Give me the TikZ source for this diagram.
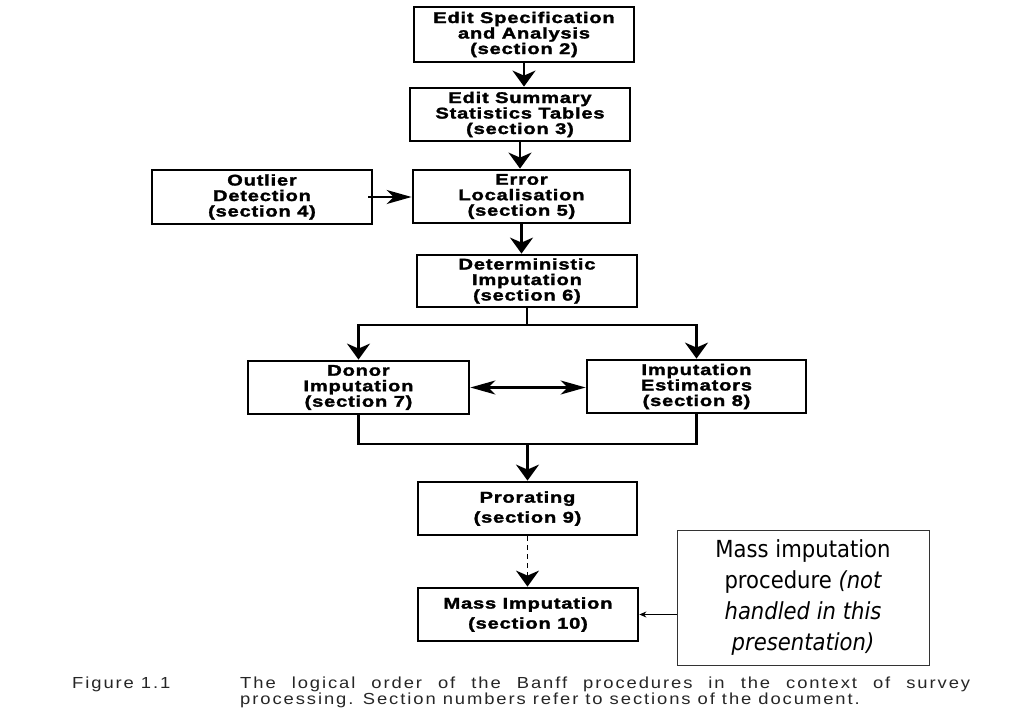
\documentclass[tikz,border=0pt]{standalone}
\usepackage{fontspec}
\usetikzlibrary{arrows.meta}
\newfontfamily\boxfont{Liberation Sans}[FakeStretch=1.3,FakeBold=1.8,LetterSpace=5]
\newfontfamily\capfont{Liberation Sans}[FakeStretch=1.15,LetterSpace=12]
\newfontfamily\notefont{DejaVu Sans}[FakeStretch=0.9]
\tikzset{
  fb/.style={draw, line width=2.8pt, minimum width=220pt, minimum height=53pt, inner sep=0pt,
    align=center, font=\boxfont\bfseries\fontsize{15.5}{15.5}\selectfont},
  fbtwo/.style={fb, font=\boxfont\bfseries\fontsize{15.5}{20}\selectfont},
  conn/.style={line width=2.4pt},
  vconn/.style={conn, -{Stealth[length=16pt,width=23pt,inset=5pt]}},
  hconn/.style={conn, -{Stealth[length=25pt,width=14pt,inset=7pt]}},
  dconn/.style={conn, {Stealth[length=25pt,width=14pt,inset=7pt]}-{Stealth[length=25pt,width=14pt,inset=7pt]}},
  captxt/.style={inner sep=0pt, anchor=base west, text=black!85, font=\capfont\fontsize{16}{17}\selectfont},
}
\begin{document}
\begin{tikzpicture}[x=1pt,y=-1pt]
\useasboundingbox (0,0) rectangle (1023,708);
\fill[white] (0,0) rectangle (1023,708);

\node[fb, minimum height=55pt] (spec) at (524,34.5) {Edit Specification\\and Analysis\\(section 2)};
\node[fb] (summary) at (520,114.5) {Edit Summary\\Statistics Tables\\(section 3)};
\node[fb, minimum height=54pt] (outlier) at (262,197) {Outlier\\Detection\\(section 4)};
\node[fb, minimum width=217pt] (errloc) at (521.5,196.5) {Error\\Localisation\\(section 5)};
\node[fb, minimum height=52pt] (determ) at (527,281) {Deterministic\\Imputation\\(section 6)};
\node[fb, minimum width=221pt] (donor) at (358.5,387.5) {Donor\\Imputation\\(section 7)};
\node[fb, minimum width=219pt] (estim) at (696.5,386.5) {Imputation\\Estimators\\(section 8)};
\node[fbtwo, minimum width=219pt, text depth=3pt] (prorate) at (527.5,508.5) {Prorating\\(section 9)};
\node[fbtwo, text depth=3pt] (mass) at (528,614.5) {Mass Imputation\\(section 10)};

\node[draw=black!80, line width=1pt, minimum width=252pt, minimum height=135pt, inner sep=0pt,
  align=center, font=\notefont\fontsize{23.5}{31}\selectfont] (note) at (803,597.5)
  {Mass imputation\\procedure {\itshape (not}\\{\itshape handled in this}\\{\itshape presentation)}};

% connectors
\draw[vconn] (spec.south) -- (spec.south |- summary.north);
\draw[vconn] (summary.south) -- (summary.south |- errloc.north);
\draw[vconn] (errloc.south) -- (errloc.south |- determ.north);
\draw[hconn] ([xshift=-5pt]outlier.east) -- (outlier.east -| errloc.west);

\draw[conn] (determ.south) -- (determ.south |- 0,325) coordinate (split);
\draw[vconn] (split) -| (donor.north);
\draw[vconn] (split) -| (estim.north);
\draw[dconn] (donor.east) -- (donor.east -| estim.west);

\coordinate (join) at (prorate.north |- 0,444);
\draw[conn] (donor.south) |- (join) -| (estim.south);
\draw[vconn] (join) -- (prorate.north);

\draw[vconn, line width=1.8pt, dash pattern=on 5pt off 4pt] (prorate.south) -- (prorate.south |- mass.north);
\draw[line width=1pt, -{Stealth[length=7pt,width=6pt]}] (note.west |- mass.east) -- (mass.east);

% caption
\node[captxt] (figlabel) at (72,688) {Figure 1.1};
\node[captxt] (cap1) at (240,688) {\makebox[730pt][s]{The logical order of the Banff procedures in the context of survey}};
\node[captxt] (cap2) at (240,704) {processing. Section numbers refer to sections of the document.};
\end{tikzpicture}
\end{document}
